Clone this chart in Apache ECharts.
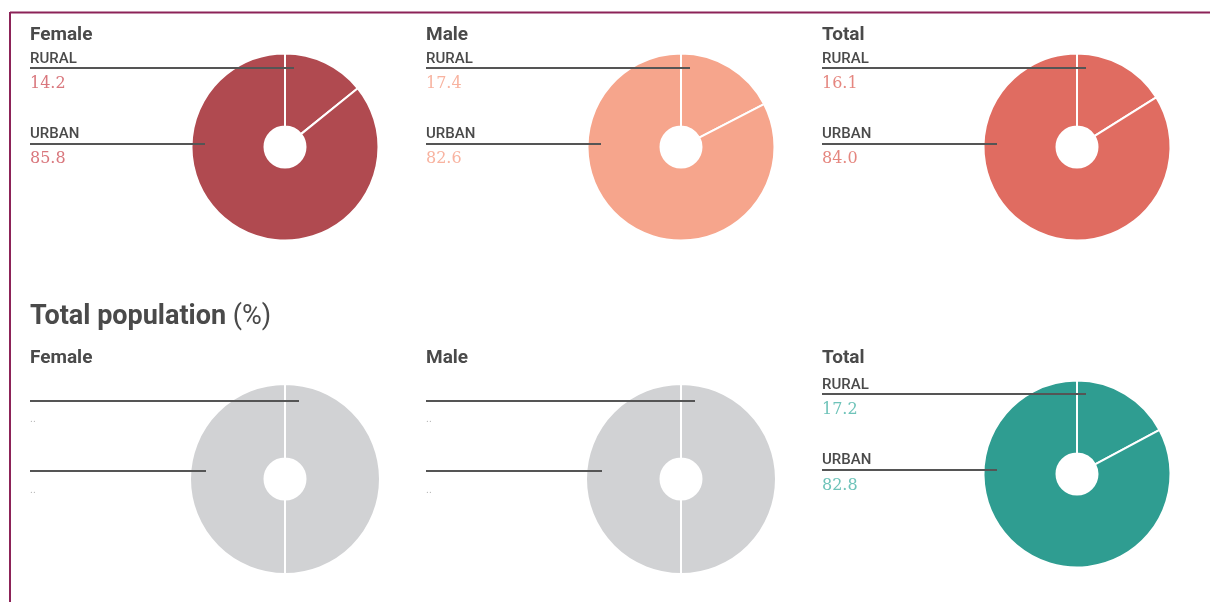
<!DOCTYPE html>
<html>
<head>
<meta charset="utf-8">
<title>Urban / rural population</title>
<script src="https://cdn.jsdelivr.net/npm/echarts@6/dist/echarts.min.js"></script>
<style>
html,body{margin:0;padding:0;background:#fff;}
#main{width:1210px;height:602px;}
</style>
</head>
<body>
<div id="main"></div>
<script>
// data
var groups = ['Female', 'Male', 'Total'];
var areas = ['RURAL', 'URBAN'];
var topRural = [14.2, 17.4, 16.1];
var topUrban = [85.8, 82.6, 84.0];
var popRural = [null, null, 17.2];   // null = not available ("..")
var popUrban = [null, null, 82.8];
var missingSplit = [50, 50];         // grey placeholder pie when no data
var sectionTitle = 'Total population';

// colours
var topColors = ['#b04a50', '#f6a58c', '#e06c61'];
var topValueColors = ['#d9777d', '#f8b3a0', '#e5867f'];
var popColor = '#2f9d91';
var popValueColor = '#6ec3b9';
var missingColor = '#d1d2d4';
var missingValueColor = '#b8b8b8';
var textColor = '#4a4a4a';
var leaderColor = '#555555';

// layout
var panelX = [30, 426, 822];
var pieX = [285, 681, 1077];

var myChart = echarts.init(document.getElementById('main'), null, {renderer: 'canvas'});

var series = [];
var elements = [];

function txt(x, y, text, font, fill) {
    elements.push({
        type: 'text', x: x, y: y, z: 100, silent: true,
        style: {text: text, font: font, fill: fill, align: 'left', verticalAlign: 'middle'}
    });
}
function hline(x1, x2, y) {
    elements.push({
        type: 'line', z: 100, silent: true,
        shape: {x1: x1, y1: y, x2: x2, y2: y},
        style: {stroke: leaderColor, lineWidth: 2}
    });
}
function pie(cx, cy, rIn, rOut, vals, color) {
    series.push({
        type: 'pie',
        center: [cx, cy],
        radius: [rIn, rOut],
        startAngle: 90,
        clockwise: true,
        silent: true,
        animation: false,
        label: {show: false},
        labelLine: {show: false},
        itemStyle: {color: color, borderColor: '#fff', borderWidth: 2},
        data: areas.map(function (a, k) { return {name: a, value: vals[k]}; })
    });
}

var titleFont = 'bold 19px Roboto';
var areaFont = '500 15px Roboto';
var valueFont = '16px "DejaVu Serif"';

// top row: urban / rural split
for (var i = 0; i < groups.length; i++) {
    var px = panelX[i];
    txt(px, 35, groups[i], titleFont, textColor);
    txt(px, 59, areas[0], areaFont, textColor);
    hline(px, pieX[i] + 9, 68);
    txt(px, 84, topRural[i].toFixed(1), valueFont, topValueColors[i]);
    txt(px, 134, areas[1], areaFont, textColor);
    hline(px, pieX[i] - 80, 144);
    txt(px, 159, topUrban[i].toFixed(1), valueFont, topValueColors[i]);
    pie(pieX[i], 147, 20.5, 93.5, [topRural[i], topUrban[i]], topColors[i]);
}

// section heading
elements.push({
    type: 'text', x: 30, y: 317, z: 100, silent: true,
    style: {
        text: '{b|' + sectionTitle + ' }{n|(%)}',
        verticalAlign: 'middle',
        rich: {
            b: {font: 'bold 27px Roboto', fill: textColor},
            n: {font: '27px Roboto', fill: textColor}
        }
    }
});

// bottom row: total population
for (var j = 0; j < groups.length; j++) {
    var qx = panelX[j];
    var has = popRural[j] != null;
    txt(qx, 358, groups[j], titleFont, textColor);
    if (has) {
        txt(qx, 385, areas[0], areaFont, textColor);
        hline(qx, pieX[j] + 9, 394);
        txt(qx, 410, popRural[j].toFixed(1), valueFont, popValueColor);
        txt(qx, 460, areas[1], areaFont, textColor);
        hline(qx, pieX[j] - 80, 470);
        txt(qx, 486, popUrban[j].toFixed(1), valueFont, popValueColor);
        pie(pieX[j], 474, 20.5, 93.5, [popRural[j], popUrban[j]], popColor);
    } else {
        hline(qx, pieX[j] + 14, 401);
        txt(qx, 419, '..', '11px Roboto', missingValueColor);
        hline(qx, pieX[j] - 79, 471);
        txt(qx, 490, '..', '11px Roboto', missingValueColor);
        pie(pieX[j], 479, 20.5, 95, missingSplit, missingColor);
    }
}

// frame
elements.push({type: 'line', z: 100, silent: true, shape: {x1: 10, y1: 12.5, x2: 1210, y2: 12.5},
    style: {stroke: '#8c2358', lineWidth: 2}});
elements.push({type: 'line', z: 100, silent: true, shape: {x1: 10, y1: 12, x2: 10, y2: 602},
    style: {stroke: '#8c2358', lineWidth: 2}});

var option = {
    backgroundColor: '#fff',
    animation: false,
    series: series,
    graphic: {elements: elements}
};

myChart.setOption(option);
</script>
</body>
</html>
